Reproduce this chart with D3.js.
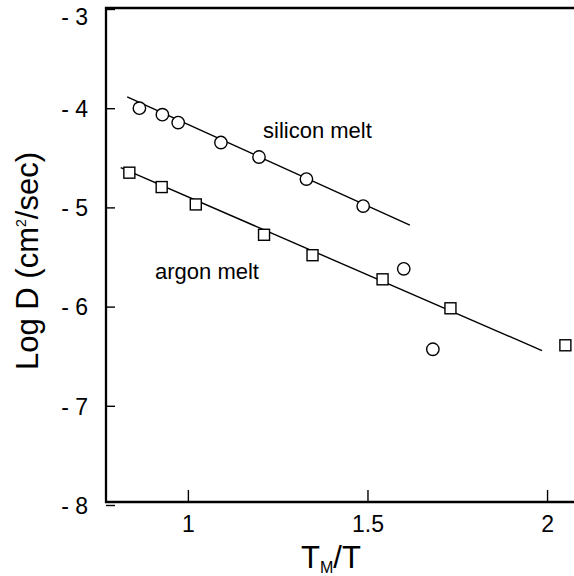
<!DOCTYPE html>
<html>
<head>
  <meta charset="UTF-8">
  <title>Log D vs TM/T</title>
  <script src="https://d3js.org/d3.v7.min.js"></script>
  <style>
    * { margin: 0; padding: 0; box-sizing: border-box; }
    body { background: #fff; font-family: "Liberation Sans", Arial, sans-serif; }
  </style>
</head>
<body>
  <div id="chart"></div>
  <script>
    // silicon melt (circles)
    const siliconX = [0.865, 0.929, 0.973, 1.092, 1.198, 1.330, 1.488, 1.601, 1.682];
    const siliconY = [-4.00, -4.065, -4.145, -4.346, -4.492, -4.714, -4.987, -5.619, -6.43];
    const siliconFit = [[0.831, -3.886], [1.618, -5.179]];

    // argon melt (squares)
    const argonX = [0.837, 0.927, 1.022, 1.212, 1.347, 1.542, 1.731, 2.051];
    const argonY = [-4.650, -4.795, -4.970, -5.276, -5.482, -5.725, -6.017, -6.39];
    const argonFit = [[0.813, -4.599], [1.986, -6.444]];

    const xTicks = [1, 1.5, 2];
    const yTicks = [-8, -7, -6, -5, -4, -3];

    const W = 574, H = 576;
    const plotL = 106, plotR = 574, plotT = 8, plotB = 502;

    const svg = d3.select("#chart").append("svg")
      .attr("width", W).attr("height", H);

    const x = d3.scaleLinear().domain([0.772, 2.075]).range([plotL, plotR]);
    const y = d3.scaleLinear().domain([-8, -3]).range([505, 9]);

    // y axis ticks (inward)
    const yAxis = svg.append("g")
      .attr("transform", `translate(${plotL},0)`)
      .call(d3.axisLeft(y).tickValues(yTicks).tickSizeInner(-9).tickSizeOuter(0).tickPadding(18)
        .tickFormat(d => "- " + Math.abs(d)));
    yAxis.select(".domain").remove();
    yAxis.selectAll("line").attr("stroke", "#000").attr("stroke-width", 1.4);
    yAxis.selectAll("text")
      .attr("font-family", "Liberation Sans, Arial, sans-serif")
      .attr("font-size", 23).attr("fill", "#000")
      .attr("dy", d => d === -3 ? "0.68em" : "0.36em");

    // x axis ticks (inward)
    const xAxis = svg.append("g")
      .attr("transform", `translate(0,${plotB})`)
      .call(d3.axisBottom(x).tickValues(xTicks).tickSizeInner(-12).tickSizeOuter(0).tickPadding(14)
        .tickFormat(d3.format("")));
    xAxis.select(".domain").remove();
    xAxis.selectAll("line").attr("stroke", "#000").attr("stroke-width", 1.4);
    xAxis.selectAll("text")
      .attr("font-family", "Liberation Sans, Arial, sans-serif")
      .attr("font-size", 23).attr("fill", "#000");

    // frame: left, top, bottom
    svg.append("path")
      .attr("d", `M${plotR},${plotT}H${plotL}V${plotB}H${plotR}`)
      .attr("fill", "none").attr("stroke", "#000").attr("stroke-width", 2.3);

    const line = d3.line().x(d => x(d[0])).y(d => y(d[1]));
    [siliconFit, argonFit].forEach(f => {
      svg.append("path").attr("d", line(f))
        .attr("fill", "none").attr("stroke", "#000").attr("stroke-width", 1.4);
    });

    svg.selectAll(".si").data(siliconX).enter().append("circle")
      .attr("cx", d => x(d))
      .attr("cy", (d, i) => y(siliconY[i]))
      .attr("r", 6.2)
      .attr("fill", "#fff").attr("stroke", "#000").attr("stroke-width", 1.4);

    const s = 11;
    svg.selectAll(".ar").data(argonX).enter().append("rect")
      .attr("x", d => x(d) - s / 2)
      .attr("y", (d, i) => y(argonY[i]) - s / 2)
      .attr("width", s).attr("height", s)
      .attr("fill", "#fff").attr("stroke", "#000").attr("stroke-width", 1.4);

    svg.append("text").attr("x", 263).attr("y", 138)
      .attr("font-size", 22).text("silicon melt");
    svg.append("text").attr("x", 155).attr("y", 279)
      .attr("font-size", 22).text("argon melt");

    // axis titles
    const xt = svg.append("text").attr("x", 331).attr("y", 568)
      .attr("text-anchor", "middle").attr("font-size", 31);
    xt.append("tspan").text("T");
    xt.append("tspan").attr("font-size", 16).attr("dy", 5).text("M");
    xt.append("tspan").attr("dy", -5).text("/T");

    const yt = svg.append("text")
      .attr("transform", "translate(38,261) rotate(-90)")
      .attr("text-anchor", "middle").attr("font-size", 31);
    yt.append("tspan").text("Log D (cm");
    yt.append("tspan").attr("font-size", 14).attr("dy", -12).text("2");
    yt.append("tspan").attr("dy", 12).text("/sec)");
  </script>
</body>
</html>
